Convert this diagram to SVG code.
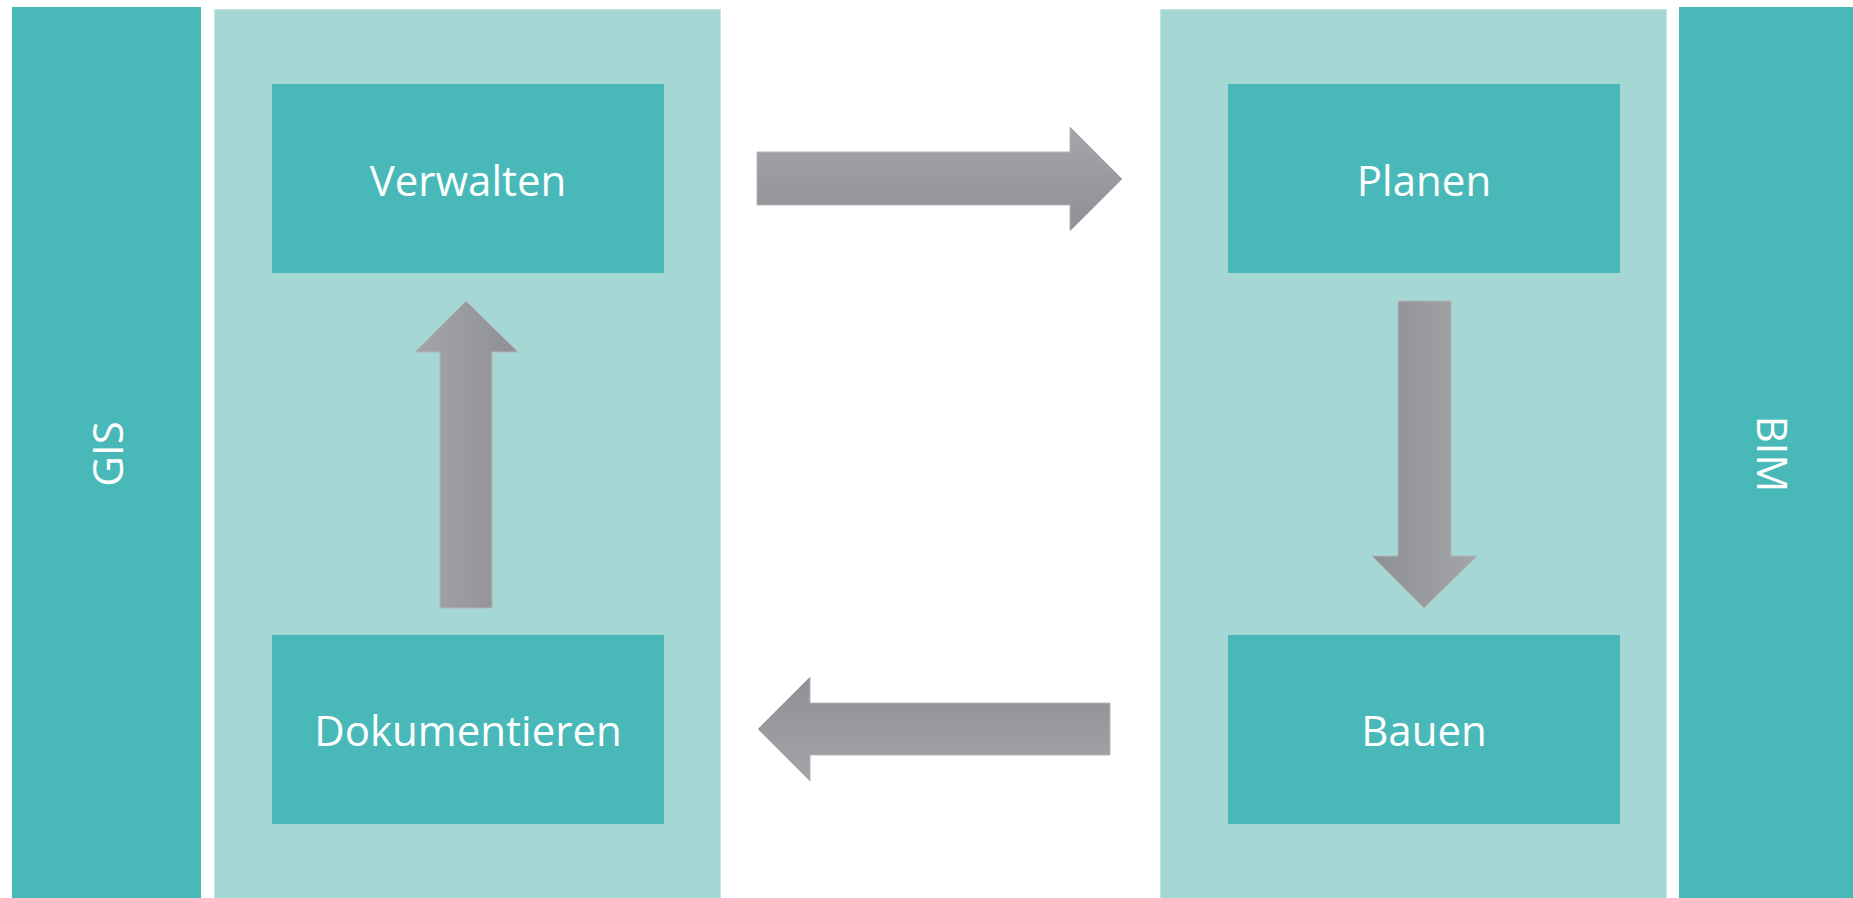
<svg xmlns="http://www.w3.org/2000/svg" width="1853" height="898" viewBox="0 0 1853 898">
  <style>
    .bar { fill: #48B9B8; }
    .panel { fill: #A5D7D5; stroke: #C4E5E3; stroke-width: 1; }
    .box { fill: #48B9B8; }
    .lbl { font-family: "Open Sans", "Liberation Sans", sans-serif; font-size: 42px; fill: #FFFFFF; text-anchor: middle; }
    .arrow { stroke: #B4B5B8; stroke-width: 1; }
  </style>
  <defs>
    <!-- shading: lighter on the arrow's left-hand side relative to its direction -->
    <linearGradient id="gRight" x1="0" y1="0" x2="0" y2="1">
      <stop offset="0" stop-color="#A4A5A9"/>
      <stop offset="1" stop-color="#8F9095"/>
    </linearGradient>
    <linearGradient id="gLeft" x1="0" y1="1" x2="0" y2="0">
      <stop offset="0" stop-color="#A4A5A9"/>
      <stop offset="1" stop-color="#8F9095"/>
    </linearGradient>
    <linearGradient id="gUp" x1="0" y1="0" x2="1" y2="0">
      <stop offset="0" stop-color="#A4A5A9"/>
      <stop offset="1" stop-color="#8F9095"/>
    </linearGradient>
    <linearGradient id="gDown" x1="1" y1="0" x2="0" y2="0">
      <stop offset="0" stop-color="#A4A5A9"/>
      <stop offset="1" stop-color="#8F9095"/>
    </linearGradient>
  </defs>

  <rect width="1853" height="898" fill="#FFFFFF"/>

  <!-- side bars -->
  <g id="gis">
    <rect class="bar" x="12" y="7" width="189" height="891"/>
    <text class="lbl" transform="translate(123,454) rotate(-90)">GIS</text>
  </g>
  <g id="bim">
    <rect class="bar" x="1679" y="7" width="174" height="891"/>
    <text class="lbl" transform="translate(1757,454) rotate(90)">BIM</text>
  </g>

  <!-- background panels -->
  <g id="panel-left">
    <rect class="panel" x="214.5" y="9.5" width="506" height="889"/>
  </g>
  <g id="panel-right">
    <rect class="panel" x="1160.5" y="9.5" width="506" height="889"/>
  </g>

  <!-- process steps -->
  <g id="verwalten">
    <rect class="box" x="272" y="84" width="392" height="189"/>
    <text class="lbl" x="468" y="196">Verwalten</text>
  </g>
  <g id="dokumentieren">
    <rect class="box" x="272" y="635" width="392" height="189"/>
    <text class="lbl" x="468" y="746">Dokumentieren</text>
  </g>
  <g id="planen">
    <rect class="box" x="1228" y="84" width="392" height="189"/>
    <text class="lbl" x="1424" y="196">Planen</text>
  </g>
  <g id="bauen">
    <rect class="box" x="1228" y="635" width="392" height="189"/>
    <text class="lbl" x="1424" y="746">Bauen</text>
  </g>

  <!-- connectors -->
  <g id="connectors">
    <polygon class="arrow" fill="url(#gRight)" points="757,152 1070,152 1070,127 1122,179 1070,231 1070,205 757,205"/>
    <polygon class="arrow" fill="url(#gDown)" points="1398,301 1451,301 1451,556 1477,556 1424,608 1372,556 1398,556"/>
    <polygon class="arrow" fill="url(#gLeft)" points="1110,703 810,703 810,677 758,729 810,781 810,755 1110,755"/>
    <polygon class="arrow" fill="url(#gUp)" points="440,608 492,608 492,352 518,352 466,301 415,352 440,352"/>
  </g>
</svg>
